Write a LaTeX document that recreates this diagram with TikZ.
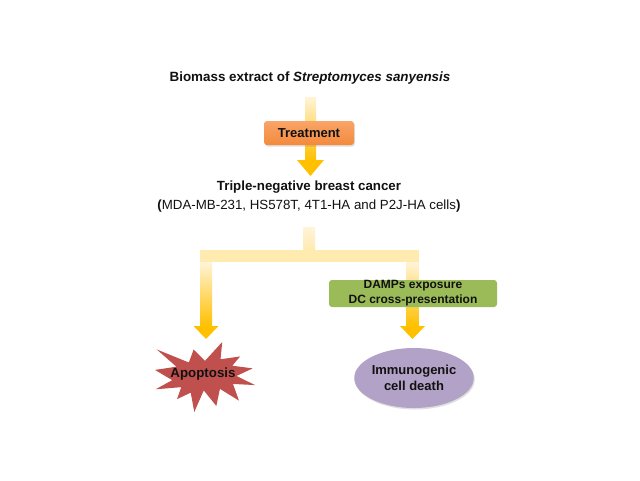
\documentclass[tikz,border=0pt]{standalone}
\usepackage{fontspec}
\setmainfont{Liberation Sans}
\usetikzlibrary{shadows,calc,shapes.geometric}
\definecolor{gold}{HTML}{FFC000}
\definecolor{palegold}{HTML}{FFF4D8}
\definecolor{barcol}{HTML}{FFEAB0}
\definecolor{orangeT}{HTML}{F9A468}
\definecolor{orangeB}{HTML}{F38A3C}
\definecolor{greenbox}{HTML}{9BBB59}
\definecolor{redstar}{HTML}{C0504D}
\definecolor{lavender}{HTML}{B3A2C7}
\definecolor{txt}{HTML}{111111}
\tikzset{
  lbl/.style={font=\bfseries\fontsize{13.3}{16}\selectfont, text=txt, align=center, inner sep=0pt},
  shaft/.style={top color=palegold, bottom color=gold},
  headfill/.style={fill=gold},
  treatbox/.style={rounded corners=3pt, top color=orangeT, bottom color=orangeB,
    minimum width=90pt, minimum height=24pt, font=\bfseries\fontsize{13}{16}\selectfont, text=txt,
    drop shadow={shadow xshift=1pt, shadow yshift=-1.5pt, opacity=0.25}},
  greenrect/.style={rounded corners=3pt, fill=greenbox, minimum width=168pt, minimum height=27pt,
    font=\bfseries\fontsize{12}{15}\selectfont, text=txt, align=center, inner sep=0pt},
  icdell/.style={ellipse, fill=lavender, minimum width=102pt, minimum height=60pt,
    font=\bfseries\fontsize{13}{15.5}\selectfont, text=txt, align=center, inner sep=0pt,
    drop shadow={shadow xshift=1pt, shadow yshift=-1.5pt, opacity=0.25}}
}
\begin{document}
\begin{tikzpicture}[x=1pt,y=-1pt]
\useasboundingbox (0,0) rectangle (640,480);
\fill[white] (0,0) rectangle (640,480);

% text nodes
\node[lbl, font=\bfseries\fontsize{13.4}{16}\selectfont] (src) at (310,78) {Biomass extract of \textit{Streptomyces sanyensis}};
\node[lbl, font=\fontsize{13.3}{19}\selectfont] (tnbc) at (309,197)
  {\textbf{Triple-negative breast cancer}\\ \textbf{(}MDA-MB-231, HS578T, 4T1-HA and P2J-HA cells\textbf{)}};

% arrow 1 coordinates
\coordinate (a1top) at (310.5,97);
\coordinate (a1tip) at (310.5,176);
\shade[shaft] ($(a1top)+(-5.5,0)$) rectangle ($(a1tip)+(5.5,-16)$);
\fill[headfill] ($(a1tip)+(-13.5,-16)$) -- ($(a1tip)+(13.5,-16)$) -- (a1tip) -- cycle;

% branch
\coordinate (stemtop) at (309,227);
\coordinate (barL) at (206,256);
\coordinate (barR) at (412.5,256);
\coordinate (tipL) at (206,339);
\coordinate (tipR) at (412.5,339);
\shade[top color=palegold, bottom color=barcol] ($(stemtop)+(-6,0)$) rectangle ($(stemtop)+(6,23)$);
\fill[barcol] ($(barL)+(-6,-6)$) rectangle ($(barR)+(6,6)$);
\shade[top color=palegold, bottom color=gold] ($(barL)+(-6,6)$) rectangle ($(tipL)+(6,-13)$);
\shade[top color=palegold, bottom color=gold] ($(barR)+(-6,6)$) rectangle ($(tipR)+(6,-13)$);
\fill[headfill] ($(tipL)+(-12.5,-13)$) -- ($(tipL)+(12.5,-13)$) -- (tipL) -- cycle;
\fill[headfill] ($(tipR)+(-12.5,-13)$) -- ($(tipR)+(12.5,-13)$) -- (tipR) -- cycle;

% boxes
\node[treatbox] (treat) at (309,133) {Treatment};
\node[greenrect] (damps) at (413,293.5) {DAMPs exposure\\DC cross-presentation};

% explosion star
\begin{scope}[shift={(155,342)}, y=-0.7pt]
\fill[redstar] (50.0,26.85) -- (67.23,0) -- (65.53,24.65) -- (85.09,20.63) -- (77.32,33.87)
 -- (97.67,37.67) -- (81.51,48.50) -- (100,61.53) -- (77.95,59.92) -- (84.00,83.77)
 -- (64.91,66.93) -- (61.33,91.38) -- (48.76,69.14) -- (39.28,100) -- (35.72,72.35)
 -- (22.05,81.56) -- (26.24,64.52) -- (0.63,67.53) -- (17.23,54.51) -- (0,39.88)
 -- (21.42,35.26) -- (1.71,10.63) -- (33.85,29.26) -- (38.67,10.63) -- cycle;
\end{scope}
\node[lbl] (apop) at (203,374) {Apoptosis};

\node[icdell] (icd) at (414,378) {Immunogenic\\cell death};
\end{tikzpicture}
\end{document}
